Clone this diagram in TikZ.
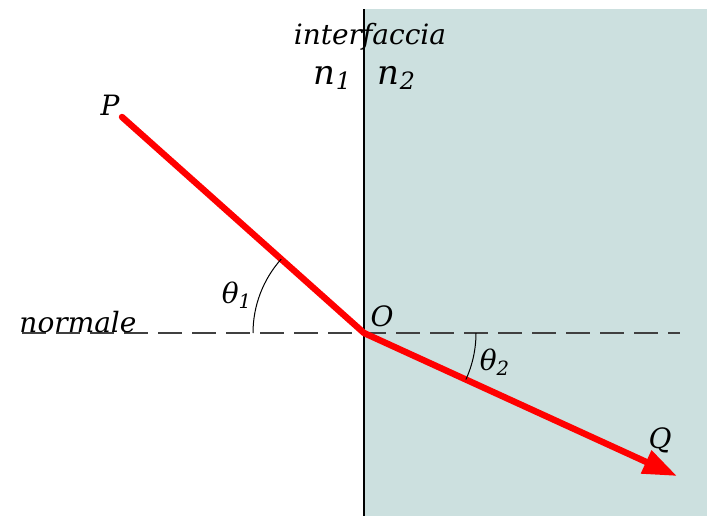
\documentclass[tikz,border=0pt]{standalone}
\usepackage{fontspec}
\setmainfont{DejaVu Serif}
\usepackage{tikz}
\usetikzlibrary{arrows.meta,angles}
\definecolor{MediumTeal}{HTML}{CCE0DF}
\definecolor{RayRed}{HTML}{FF0000}

\begin{document}
\begin{tikzpicture}[
  x=0.5pt, y=0.5pt,
  medium/.style={fill=MediumTeal, draw=none},
  interface/.style={draw=black, line width=1.4pt},
  normalline/.style={draw=black!75, line width=0.7pt, dash pattern=on 12pt off 5pt},
  ray/.style={draw=RayRed, line width=3.2pt, line cap=round, line join=round},
  raytip/.style={ray, line cap=butt, -{Triangle[length=17pt,width=12pt]}},
  anglearc/.style={draw=black, line width=0.5pt},
  lbl/.style={font=\itshape\fontsize{14}{16}\selectfont, inner sep=0pt},
  idx/.style={font=\itshape\fontsize{17}{19}\selectfont, inner sep=0pt}
]
\useasboundingbox (0,0) rectangle (707,516);
% second medium
\fill[medium] (364,0) rectangle (707,507);
\coordinate (top) at (364,507);
\coordinate (bottom) at (364,0);
\draw[interface] (top) -- (bottom);
% normal to the interface
\coordinate (O) at (364,183);
\coordinate (W) at (22,183);
\coordinate (E) at (680,183);
\draw[normalline] (W) -- (E);
% ray
\coordinate (start) at (122,399);
\coordinate (tip) at (677,40);
\draw[ray] (start) -- (O);
\draw[raytip] (O) -- (tip);
% angles
\pic[anglearc, angle radius=55.5pt] {angle=start--O--W};
\pic[anglearc, angle radius=56pt] {angle=tip--O--E};
% labels
\node[lbl] (title) at (370,479) {interfaccia};
\node[idx] (n1) at (333,438) {n\textsubscript{1}};
\node[idx] (n2) at (397,438) {n\textsubscript{2}};
\node[lbl] (Plabel) at (110,411) {P};
\node[lbl] (Olabel) at (382,200) {O};
\node[lbl] (Qlabel) at (660,76) {Q};
\node[lbl] (normale) at (78,194) {normale};
\node[lbl] (theta1) at (237,221) {θ\textsubscript{1}};
\node[lbl] (theta2) at (495,154) {θ\textsubscript{2}};
\end{tikzpicture}
\end{document}
